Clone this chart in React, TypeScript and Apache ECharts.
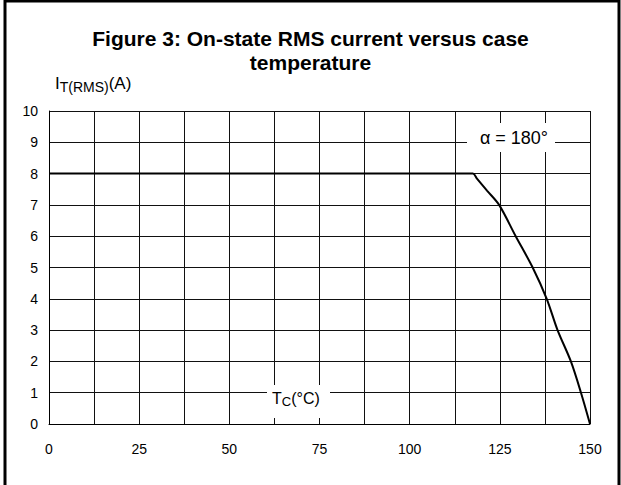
import React, { useEffect, useRef } from "react";
import * as echarts from "echarts";

const titleLines = ["Figure 3: On-state RMS current versus case", "temperature"];
const xTicks = [0, 25, 50, 75, 100, 125, 150];
const caseTemp = [0, 117.5, 118.6, 121.5, 124.8, 129.4, 134.1, 138.0, 141.0, 144.7, 147.5, 150];
const rmsCurrent = [8, 8, 7.85, 7.45, 7, 6, 5, 4, 3, 2, 1, 0];
const alphaLabel = "α = 180°";

const FONT = "'Liberation Sans', Arial, Helvetica, sans-serif";

export default function App() {
  const ref = useRef<HTMLDivElement>(null);
  useEffect(() => {
    document.body.style.margin = "0";
    const chart = echarts.init(ref.current!, null, { renderer: "svg" });
    const data = caseTemp.map((t, i) => [t, rmsCurrent[i]]);
    chart.setOption({
      animation: false,
      backgroundColor: "#fff",
      title: {
        text: titleLines.join("\n"),
        left: "center",
        top: 21,
        textStyle: { fontFamily: FONT, fontSize: 21, fontWeight: "bold", color: "#000", lineHeight: 24 },
      },
      grid: { left: 49, right: 31, top: 111, bottom: 61 },
      xAxis: {
        type: "value",
        min: 0,
        max: 150,
        interval: 12.5,
        axisLine: { show: true, lineStyle: { color: "#000", width: 1 } },
        axisTick: { show: false },
        splitLine: { show: true, lineStyle: { color: "#111", width: 1 } },
        axisLabel: {
          margin: 18,
          fontFamily: FONT,
          fontSize: 14,
          color: "#000",
          formatter: (v: number) => (xTicks.includes(v) ? String(v) : ""),
        },
      },
      yAxis: {
        type: "value",
        min: 0,
        max: 10,
        interval: 1,
        axisLine: { show: true, lineStyle: { color: "#000", width: 1 } },
        axisTick: { show: false },
        splitLine: { show: true, lineStyle: { color: "#111", width: 1 } },
        axisLabel: { margin: 11, fontFamily: FONT, fontSize: 14, color: "#000" },
      },
      series: [
        {
          type: "line",
          data,
          showSymbol: false,
          symbol: "none",
          smooth: 0.3,
          lineStyle: { color: "#000", width: 2 },
          z: 5,
        },
      ],
      graphic: [
        {
          type: "rect",
          z: 100,
          shape: { x: 5, y: 1, width: 614, height: 600 },
          style: { fill: "none", stroke: "#000", lineWidth: 3 },
        },
        {
          type: "text",
          z: 100,
          x: 55,
          y: 72,
          style: {
            text: "{m|I}{s|T(RMS)}{m|(A)}",
            rich: {
              m: { fontFamily: FONT, fontSize: 17, lineHeight: 22, fill: "#000", verticalAlign: "middle" },
              s: { fontFamily: FONT, fontSize: 14, lineHeight: 16, fill: "#000", verticalAlign: "bottom" },
            },
          },
        },
        {
          type: "rect",
          z: 100,
          shape: { x: 467, y: 123, width: 88, height: 29 },
          style: { fill: "#fff", stroke: "none" },
        },
        {
          type: "text",
          z: 101,
          x: 514,
          y: 138,
          style: {
            text: alphaLabel,
            fontFamily: FONT,
            fontSize: 18,
            fill: "#000",
            align: "center",
            verticalAlign: "middle",
          },
        },
        {
          type: "rect",
          z: 100,
          shape: { x: 267, y: 385, width: 63, height: 33 },
          style: { fill: "#fff", stroke: "none" },
        },
        {
          type: "text",
          z: 101,
          x: 272,
          y: 388,
          style: {
            text: "{m|T}{s|C}{m|(°C)}",
            rich: {
              m: { fontFamily: FONT, fontSize: 16, lineHeight: 20, fill: "#000", verticalAlign: "middle" },
              s: { fontFamily: FONT, fontSize: 13, lineHeight: 15, fill: "#000", verticalAlign: "bottom" },
            },
          },
        },
      ],
    });
    return () => chart.dispose();
  }, []);
  return <div ref={ref} style={{ width: 621, height: 485 }} />;
}
